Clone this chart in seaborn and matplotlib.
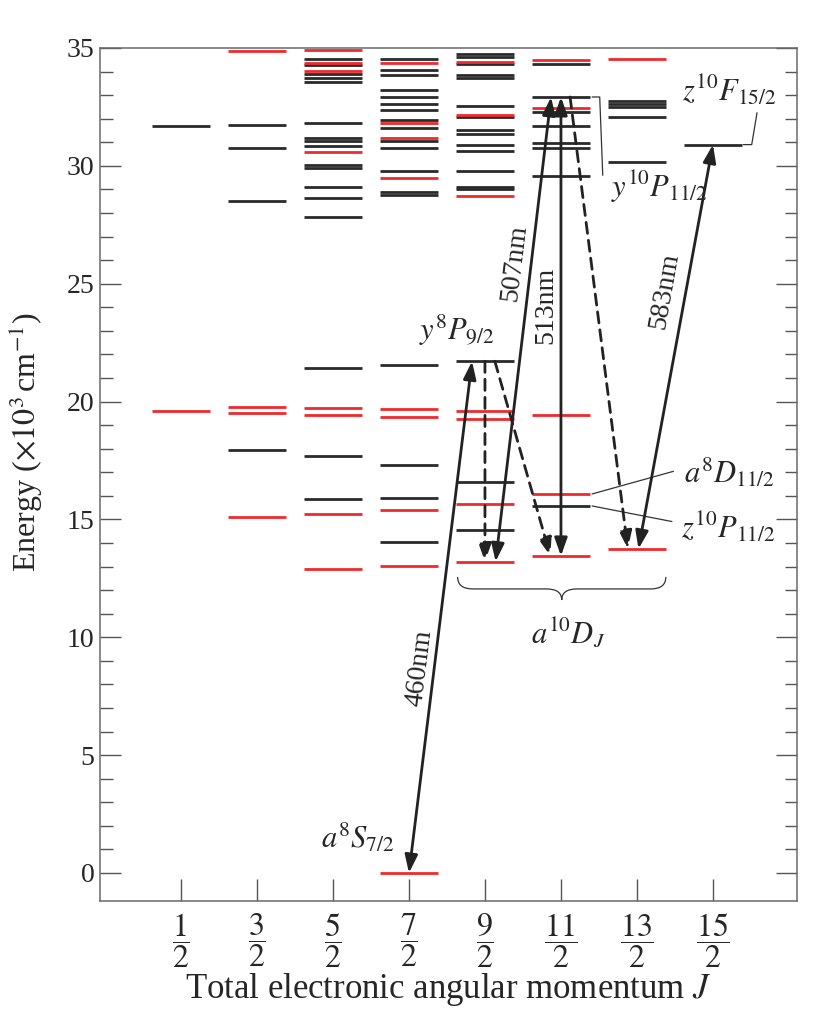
import numpy as np
import pandas as pd
import matplotlib
matplotlib.use("Agg")
import matplotlib.pyplot as plt
import seaborn as sns
from matplotlib.path import Path
from matplotlib.patches import PathPatch

# rotulos do eixo x (J = 1/2 ... 15/2)
j_labels = [r"$\dfrac{1}{2}$", r"$\dfrac{3}{2}$", r"$\dfrac{5}{2}$", r"$\dfrac{7}{2}$",
            r"$\dfrac{9}{2}$", r"$\dfrac{11}{2}$", r"$\dfrac{13}{2}$", r"$\dfrac{15}{2}$"]

# niveis de energia (10^3 cm^-1) para cada J, pretos e vermelhos
black_j1 = [31.69]
red_j1 = [19.6]
black_j3 = [31.75, 30.76, 28.5, 17.93]
red_j3 = [34.87, 19.77, 19.53, 15.12]
black_j5 = [34.52, 34.28, 33.91, 33.74, 33.57, 31.83, 31.18, 31.06, 30.86, 30.03, 29.92,
            29.09, 28.63, 27.83, 21.41, 17.68, 15.87]
red_j5 = [34.93, 34.36, 34.04, 30.57, 19.74, 19.45, 15.23, 12.91]
black_j7 = [34.52, 34.08, 33.86, 33.2, 32.92, 32.64, 32.36, 31.96, 31.62, 31.06, 30.77,
            29.77, 28.9, 28.77, 21.57, 17.31, 15.92, 14.04]
red_j7 = [34.38, 31.82, 31.17, 29.47, 19.69, 19.35, 15.4, 13.02, 0.0]
black_j9 = [34.73, 34.63, 34.32, 33.85, 33.72, 32.55, 32.06, 31.52, 31.33, 30.87, 30.61,
            29.8, 29.1, 29.0, 21.71, 16.57, 14.54]
red_j9 = [34.42, 32.16, 28.72, 19.61, 19.26, 15.66, 13.21]
black_j11 = [34.3, 32.92, 32.3, 31.71, 30.97, 30.77, 29.57, 15.58]
red_j11 = [34.49, 32.45, 19.42, 16.06, 13.45]
black_j13 = [32.77, 32.64, 32.51, 32.08, 30.18]
red_j13 = [34.52, 13.75]
black_j15 = [30.9]
red_j15 = []

# transicoes: (x inicial, E inicial, x final, E final)
arrow_x0 = [3.0, 4.14, 5.0, 6.02]
arrow_e0 = [0.0, 13.21, 13.45, 13.75]
arrow_x1 = [3.83, 4.87, 5.0, 7.0]
arrow_e1 = [21.71, 32.92, 32.92, 30.9]

dash_x0 = [4.0, 4.13, 5.12]
dash_e0 = [21.71, 21.71, 32.92]
dash_x1 = [4.0, 4.86, 5.88]
dash_e1 = [13.21, 13.45, 13.75]

PRETO = "#2a2a2a"
VERMELHO = "#ee2a2e"

pretos = [black_j1, black_j3, black_j5, black_j7, black_j9, black_j11, black_j13, black_j15]
vermelhos = [red_j1, red_j3, red_j5, red_j7, red_j9, red_j11, red_j13, red_j15]

linhas = []
for j, niveis in enumerate(pretos):
    for e in niveis:
        linhas.append((j, e, "black"))
for j, niveis in enumerate(vermelhos):
    for e in niveis:
        linhas.append((j, e, "red"))
df = pd.DataFrame(linhas, columns=["j", "energia", "tipo"])

sns.set_theme(style="ticks")
plt.rcParams["font.family"] = ["Liberation Serif", "DejaVu Serif"]
plt.rcParams["mathtext.fontset"] = "stix"

fig = plt.figure(figsize=(8.31, 10.14), dpi=100)
ax = fig.add_axes([0.1203, 0.1114, 0.8387, 0.8413])

sns.scatterplot(data=df, x="j", y="energia", hue="tipo",
                palette={"black": PRETO, "red": VERMELHO},
                marker="_", s=1750, linewidth=2.0, legend=False, ax=ax, zorder=2)

# setas solidas (duas pontas)
for x0, e0, x1, e1 in zip(arrow_x0, arrow_e0, arrow_x1, arrow_e1):
    ax.annotate("", xy=(x1, e1), xytext=(x0, e0),
                arrowprops=dict(arrowstyle="<|-|>,head_length=0.9,head_width=0.32",
                                color="#222222", lw=2.0, shrinkA=0, shrinkB=0,
                                mutation_scale=12), zorder=3)

# setas tracejadas
for x0, e0, x1, e1 in zip(dash_x0, dash_e0, dash_x1, dash_e1):
    ax.annotate("", xy=(x1, e1), xytext=(x0, e0),
                arrowprops=dict(arrowstyle="-|>,head_length=0.9,head_width=0.32",
                                color="#222222", lw=2.0, linestyle=(0, (4, 2.5)),
                                shrinkA=0, shrinkB=0, mutation_scale=12), zorder=3)

# comprimentos de onda
ax.text(3.14, 8.7, "460nm", rotation=83, fontsize=20, ha="center", va="center")
ax.text(4.39, 25.9, "507nm", rotation=83, fontsize=20, ha="center", va="center")
ax.text(4.80, 24.1, "513nm", rotation=90, fontsize=20, ha="center", va="center")
ax.text(6.36, 24.7, "583nm", rotation=80, fontsize=20, ha="center", va="center")

# nomes dos estados
ax.text(3.63, 23.0, r"$y^8P_{9/2}$", fontsize=22, ha="center", va="center")
ax.text(6.30, 29.1, r"$y^{10}P_{11/2}$", fontsize=22, ha="center", va="center")
ax.text(7.22, 33.2, r"$z^{10}F_{15/2}$", fontsize=22, ha="center", va="center")
ax.text(7.22, 16.97, r"$a^8D_{11/2}$", fontsize=22, ha="center", va="center")
ax.text(7.20, 14.64, r"$z^{10}P_{11/2}$", fontsize=22, ha="center", va="center")
ax.text(2.33, 1.48, r"$a^8S_{7/2}$", fontsize=22, ha="center", va="center")
ax.text(5.09, 10.2, r"$a^{10}D_J$", fontsize=22, ha="center", va="center")

# linhas guia
kw = dict(color="#333333", lw=0.9, zorder=1)
ax.plot([5.41, 5.51, 5.55], [32.92, 32.92, 29.6], **kw)
ax.plot([7.40, 7.51, 7.58], [30.9, 30.9, 32.25], **kw)
ax.plot([5.41, 6.48], [16.08, 17.04], **kw)
ax.plot([5.41, 6.46], [15.57, 14.91], **kw)

# chave sob os niveis a10D
xl, xc, xr = 3.64, 5.01, 6.38
yt, ym, yb = 12.56, 12.05, 11.58
verts = [(xl, yt), (xl, ym), (xl + 0.2, ym), (xc - 0.2, ym), (xc, ym), (xc, yb),
         (xc, ym), (xc + 0.2, ym), (xr - 0.2, ym), (xr, ym), (xr, yt)]
codes = [Path.MOVETO, Path.CURVE3, Path.CURVE3, Path.LINETO, Path.CURVE3, Path.CURVE3,
         Path.CURVE3, Path.CURVE3, Path.LINETO, Path.CURVE3, Path.CURVE3]
ax.add_patch(PathPatch(Path(verts, codes), fill=False, lw=0.9, edgecolor="#333333"))

# eixos
ax.set_xlim(-1.066, 8.105)
ax.set_ylim(-1.19, 35.0)
ax.set_xticks(range(8))
ax.set_xticklabels(j_labels, fontsize=23)
ax.set_yticks(np.arange(0, 36, 5))
ax.set_yticks(np.arange(0, 36, 1), minor=True)
ax.tick_params(axis="y", which="major", direction="in", length=15, width=1.0,
               right=True, labelsize=20, color="#555555", pad=4)
ax.tick_params(axis="y", which="minor", direction="in", length=9, width=1.0,
               right=True, color="#555555")
ax.tick_params(axis="x", which="major", direction="in", length=16, width=1.0,
               labelsize=23, color="#555555", pad=7)
ax.tick_params(axis="x", which="minor", bottom=False, top=False)
for sp in ax.spines.values():
    sp.set_visible(True)
    sp.set_color("#6a6a6a")
    sp.set_linewidth(1.1)

ax.set_xlabel(r"Total electronic angular momentum $J$", fontsize=25)
ax.set_ylabel(r"Energy ($\times10^{3}\,$cm$^{-1}$)", fontsize=23)
ax.xaxis.set_label_coords(0.5, -0.082)
ax.yaxis.set_label_coords(-0.079, 0.538)

fig.savefig("out.png", dpi=100)
